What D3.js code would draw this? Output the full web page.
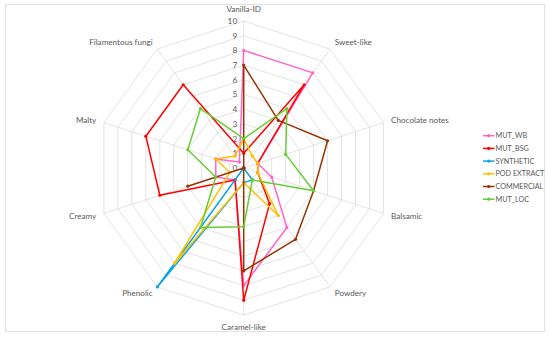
<!DOCTYPE html>
<html>
<head>
<meta charset="utf-8">
<script src="https://cdn.jsdelivr.net/npm/d3@7"></script>
<style>
  html, body { margin: 0; padding: 0; background: #ffffff; }
  svg text { font-family: Lato, "Open Sans", sans-serif; fill: #595959; }
</style>
</head>
<body>
<svg id="chart" width="550" height="340"></svg>
<script>
// ---- data ----
const axes = ["Vanilla-ID", "Sweet-like", "Chocolate notes", "Balsamic", "Powdery",
              "Caramel-like", "Phenolic", "Creamy", "Malty", "Filamentous fungi"];
const tickLabels = ["0", "1", "2", "3", "4", "5", "6", "7", "8", "9", "10"];
const seriesNames = ["MUT_WB", "MUT_BSG", "SYNTHETIC", "POD EXTRACT", "COMMERCIAL", "MUT_LOC"];
const mutWB      = [8, 8, 1, 2, 5, 8, 1, 2, 2, 0.5];
const mutBSG     = [1, 7, 1, 1, 3, 9, 1, 6, 7, 7];
const synthetic  = [0, 0, 0, 0, 1, 1, 10, 0, 0, 0];
const podExtract = [2, 1, 1, 1, 4, 1, 8, 1, 2, 1];
const commercial = [7, 4, 6, 5, 6, 7, 0, 4, 0, 0];
const mutLOC     = [2, 5, 3, 5, 1, 4, 5, 2, 4, 5];
const seriesValues = [mutWB, mutBSG, synthetic, podExtract, commercial, mutLOC];
const seriesColors = ["#FF66CC", "#FF0000", "#0AA5DE", "#FFC000", "#993300", "#66CC33"];

// ---- layout ----
const svg = d3.select("#chart");
const cx = 243.7, cy = 168, R = 147;
const r = d3.scaleLinear().domain([0, 10]).range([0, R]);
const ang = d3.scaleLinear().domain([0, axes.length]).range([0, 2 * Math.PI]);

svg.append("rect").attr("x", 5.5).attr("y", 4.5).attr("width", 539).attr("height", 327)
  .attr("fill", "none").attr("stroke", "#d9d9d9").attr("stroke-width", 0.75);

const g = svg.append("g").attr("transform", `translate(${cx},${cy})`);

// grid rings
const ringLine = d3.lineRadial().angle((d, i) => ang(i)).radius(d => d).curve(d3.curveLinearClosed);
const ticks = d3.range(1, 11);
g.selectAll("path.ring").data(ticks).join("path").attr("class", "ring")
  .attr("d", t => ringLine(axes.map(() => r(t))))
  .attr("fill", "none").attr("stroke", "#d9d9d9").attr("stroke-width", 0.75);

// spokes
g.selectAll("line.spoke").data(axes).join("line").attr("class", "spoke")
  .attr("x1", 0).attr("y1", 0)
  .attr("x2", (d, i) => r(10) * Math.sin(ang(i)))
  .attr("y2", (d, i) => -r(10) * Math.cos(ang(i)))
  .attr("stroke", "#d9d9d9").attr("stroke-width", 0.75);

// tick labels
g.selectAll("text.tick").data(tickLabels).join("text").attr("class", "tick")
  .attr("x", -6.5).attr("y", (d, i) => -r(i)).attr("dy", "0.35em")
  .attr("text-anchor", "end").style("font-size", "8.3px").text(d => d);

// axis labels
g.selectAll("text.axis").data(axes).join("text").attr("class", "axis")
  .each(function (d, i) {
    const a = ang(i), s = Math.sin(a), c = Math.cos(a);
    const off = (i === 0 || i === 5) ? 12 : 8;
    const x = (R + off) * s, y = -(R + off) * c;
    d3.select(this).attr("x", Math.abs(s) < 0.01 ? 0 : x).attr("y", y).attr("dy", "0.35em")
      .attr("text-anchor", Math.abs(s) < 0.01 ? "middle" : (s > 0 ? "start" : "end"));
  })
  .style("font-size", "8.1px").text(d => d);

// series
const line = d3.lineRadial().angle((d, i) => ang(i)).radius(d => r(d)).curve(d3.curveLinearClosed);
seriesValues.forEach((vals, k) => {
  const sg = g.append("g");
  sg.append("path").attr("d", line(vals)).attr("fill", "none")
    .attr("stroke", seriesColors[k]).attr("stroke-width", 1.5).attr("stroke-linejoin", "round");
  sg.selectAll("circle").data(vals).join("circle")
    .attr("cx", (d, i) => r(d) * Math.sin(ang(i)))
    .attr("cy", (d, i) => -r(d) * Math.cos(ang(i)))
    .attr("r", 1.6).attr("fill", seriesColors[k]);
});

// legend
const lg = svg.append("g").attr("transform", "translate(483,135.7)");
const rowH = 12.7;
seriesNames.forEach((name, k) => {
  const row = lg.append("g").attr("transform", `translate(0,${k * rowH})`);
  row.append("line").attr("x1", 0).attr("x2", 11.5).attr("y1", 0).attr("y2", 0)
    .attr("stroke", seriesColors[k]).attr("stroke-width", 1.5);
  row.append("circle").attr("cx", 5.75).attr("cy", 0).attr("r", 1.6).attr("fill", seriesColors[k]);
  row.append("text").attr("x", 12.5).attr("y", 0).attr("dy", "0.35em")
    .style("font-size", "7.2px").text(name);
});
</script>
</body>
</html>
